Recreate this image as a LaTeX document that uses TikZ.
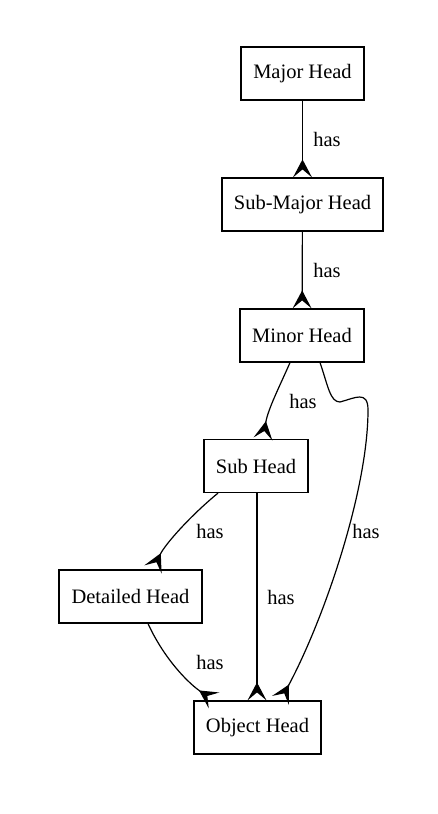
\documentclass[tikz,border=0pt]{standalone}
\usepackage{fontspec}
\setmainfont{Liberation Serif}
\usetikzlibrary{arrows.meta}
\begin{document}
\begin{tikzpicture}[x=1pt,y=-1pt,
  box/.style={draw,line width=1.2pt,minimum height=53pt,inner sep=0pt,font=\fontsize{20.5}{24}\selectfont},
  lbl/.style={font=\fontsize{20.5}{24}\selectfont,inner sep=0pt},
  rel/.style={line width=1.2pt,-{Stealth[reversed,length=18pt,width=19pt,inset=8pt]}}]
\useasboundingbox (0,0) rectangle (437,814);
\node[box,minimum width=123pt] (major) at (302.5,73.5) {Major Head};
\node[box,minimum width=161pt] (submajor) at (302.5,204.5) {Sub-Major Head};
\node[box,minimum width=124pt] (minor) at (302,335.5) {Minor Head};
\node[box,minimum width=104pt] (sub) at (256,466) {Sub Head};
\node[box,minimum width=143pt] (detailed) at (130.5,596.5) {Detailed Head};
\node[box,minimum width=127pt] (object) at (257.5,727.5) {Object Head};
\draw[rel] (major) -- (submajor);
\draw[rel] (submajor) -- (minor);
\draw[rel] ([xshift=-12pt]minor.south) .. controls +(-10,23) and +(5,-30) .. ([xshift=7pt]sub.north);
\draw[rel] ([xshift=18pt]minor.south) .. controls +(8,23) and +(-10,0) .. (340,402)
  .. controls +(15,-4) and +(0,-20) .. (368,410)
  .. controls +(0,80) and +(44,-82) .. ([xshift=23pt]object.north);
\draw[rel] ([xshift=-38pt]sub.south) .. controls +(-28,23) and +(12,-25) .. ([xshift=22.5pt]detailed.north);
\draw[rel] ([xshift=1pt]sub.south) -- ([xshift=-0.5pt]object.north);
\draw[rel] ([xshift=17.5pt]detailed.south) .. controls +(17,37) and +(-24,-16) .. ([xshift=-43.5pt]object.north);
\node[lbl] (l1) at (327,139) {has};
\node[lbl] (l2) at (327,270) {has};
\node[lbl] (l3) at (303,401) {has};
\node[lbl] (l4) at (366,531) {has};
\node[lbl] (l5) at (210,531) {has};
\node[lbl] (l6) at (281,597) {has};
\node[lbl] (l7) at (210,662) {has};
\end{tikzpicture}
\end{document}
